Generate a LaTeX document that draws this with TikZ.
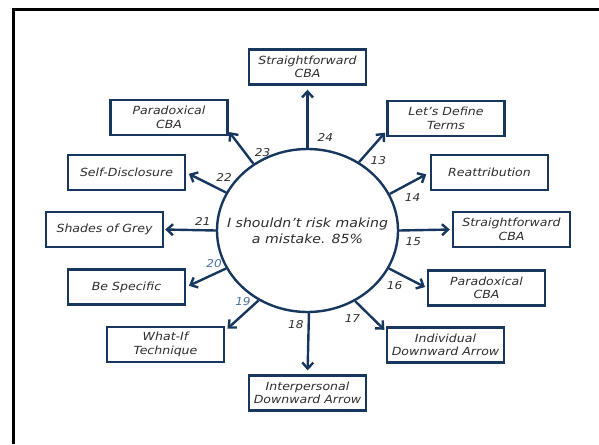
\documentclass[tikz,border=0pt]{standalone}
\usepackage{fontspec}
\setmainfont{DejaVu Sans}[FakeStretch=1.12, ItalicFont={DejaVu Sans Oblique}]
\usetikzlibrary{shapes,arrows,arrows.meta}
\definecolor{navy}{RGB}{23,55,94}
\definecolor{txt}{RGB}{45,45,45}
\definecolor{numblue}{RGB}{74,110,160}
\tikzstyle{tech} = [rectangle, minimum width=117pt, minimum height=35pt, inner xsep=1pt, text centered, align=center, draw=navy, line width=2.4pt, text=txt, font=\fontsize{11.2}{13.5}\selectfont\itshape]
\tikzstyle{belief} = [ellipse, minimum width=181pt, minimum height=163pt, draw=navy, line width=2.4pt]
\tikzstyle{link} = [navy, line width=2.4pt, -{Straight Barb[length=6pt,width=11pt]}]
\tikzstyle{num} = [text=txt, inner sep=1pt, font=\fontsize{10.8}{12}\selectfont\itshape]

\begin{document}
\begin{tikzpicture}[x=1pt,y=-1pt]
		\useasboundingbox (0,0) rectangle (599,444);
		\draw[line width=3pt] (13.5,444) -- (13.5,10) -- (599,10);

		\node[belief, label={[align=center,text=txt,font=\fontsize{12.6}{16}\selectfont\itshape]center:I shouldn't risk making\\a mistake. 85\%}](thought) at (307.5,230.5) {};

		\node[tech](topsf) at (307.5,67) {Straightforward\\CBA};
		\node[tech](define) at (446,118.5) {Let's Define\\Terms};
		\node[tech](reattr) at (489.5,172.5) {Reattribution};
		\node[tech](rightsf) at (511.5,229.5) {Straightforward\\CBA};
		\node[tech](rightpara) at (486.5,288) {Paradoxical\\CBA};
		\node[tech](indiv) at (445.5,345) {Individual\\Downward Arrow};
		\node[tech](inter) at (307.5,393) {Interpersonal\\Downward Arrow};
		\node[tech](whatif) at (165.5,344.5) {What-If\\Technique};
		\node[tech](specific) at (126.5,287) {Be Specific};
		\node[tech](shades) at (104.5,229.5) {Shades of Grey};
		\node[tech](selfdisc) at (126.5,172.5) {Self-Disclosure};
		\node[tech](leftpara) at (169,117.5) {Paradoxical\\CBA};

		\draw[link, shorten >=4pt](thought.90)--(topsf.south) node[num,pos=0.17,right=8pt]{24};
		\draw[link, shorten >=2pt](thought.53)--(define.192) node[num,pos=0.05,right=8pt]{13};
		\draw[link, shorten >=4pt](thought.24)--(reattr.west) node[num,pos=0.25,below right=3pt]{14};
		\draw[link, shorten >=2pt](thought.0)--(rightsf.west) node[num,pos=0.27,below=5pt]{15};
		\draw[link, shorten >=2pt](thought.-25)--(rightpara.west) node[num,pos=0.15,below=8pt]{16};
		\draw[link, shorten >=2pt](thought.-56)--(indiv.167) node[num,pos=0.3,below left=2pt]{17};
		\draw[link, shorten >=4pt](thought.-89)--(inter.north) node[num,pos=0.18,left=3pt]{18};
		\draw[link, shorten >=3pt](thought.-125)--(whatif.13) node[num,text=numblue,pos=0.05,left=4pt]{19};
		\draw[link, shorten >=3pt](thought.-155)--(specific.east) node[num,text=numblue,pos=0.05,above left=0pt]{20};
		\draw[link, shorten >=1pt](thought.180)--(shades.east) node[num,pos=0.25,above=3pt]{21};
		\draw[link, shorten >=3pt](thought.155)--(selfdisc.east) node[num,pos=0.05,above=8pt]{22};
		\draw[link, shorten >=1pt](thought.129)--(leftpara.347) node[num,pos=0.35,right=8pt]{23};
	\end{tikzpicture}
\end{document}
